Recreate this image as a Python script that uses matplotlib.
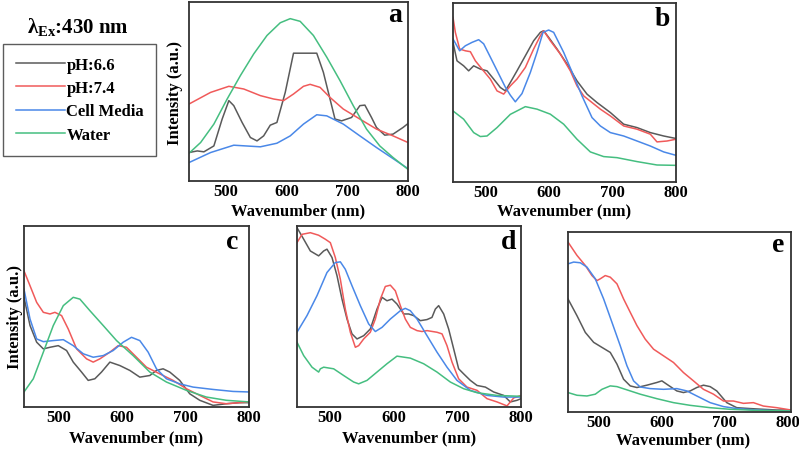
import matplotlib
matplotlib.use("Agg")
import matplotlib.pyplot as plt

plt.rcParams['font.family'] = ['Liberation Serif', 'DejaVu Serif']
plt.rcParams['font.weight'] = 'bold'
plt.rcParams['mathtext.fontset'] = 'custom'
plt.rcParams['mathtext.rm'] = 'Liberation Serif:bold'
plt.rcParams['mathtext.it'] = 'Liberation Serif:bold'
plt.rcParams['mathtext.bf'] = 'Liberation Serif:bold'

labels = ['pH:6.6', 'pH:7.4', 'Cell Media', 'Water']
colors = ['#5a5a5a', '#f05a5a', '#4a88e8', '#45be80']

# panel a
a_gray_x = [440, 453.6, 464.5, 480.9, 494.5, 505.5, 513.6, 527.3, 540.9, 551.8, 562.7, 573.6, 584.5, 598.2,
            611.8, 650, 660.9, 671.8, 680, 690.9, 707.3, 720.9, 729.1, 740, 748.2, 761.8, 775.5, 791.8, 800]
a_gray_y = [0.159, 0.168, 0.163, 0.196, 0.346, 0.449, 0.421, 0.327, 0.243, 0.224, 0.252, 0.312, 0.327, 0.495,
            0.714, 0.714, 0.607, 0.458, 0.346, 0.336, 0.355, 0.421, 0.424, 0.355, 0.299, 0.256, 0.262, 0.299, 0.321]
a_red_x = [440, 475.5, 505.5, 530, 557.3, 579.1, 595.5, 611.8, 628.2, 639.1, 655.5, 671.8, 693.6, 720.9, 748.2, 775.5, 800]
a_red_y = [0.430, 0.495, 0.529, 0.514, 0.477, 0.458, 0.449, 0.486, 0.529, 0.540, 0.523, 0.467, 0.402, 0.346, 0.290, 0.252, 0.215]
a_blue_x = [440, 475.5, 513.6, 557.3, 584.5, 606.4, 628.2, 650, 666.4, 693.6, 720.9, 748.2, 775.5, 800]
a_blue_y = [0.103, 0.159, 0.200, 0.191, 0.211, 0.252, 0.318, 0.370, 0.364, 0.318, 0.252, 0.187, 0.125, 0.069]
a_green_x = [440, 459.1, 480.9, 502.7, 524.5, 546.4, 568.2, 590, 606.4, 622.7, 644.5, 666.4, 688.2, 710, 731.8, 753.6, 775.5, 800]
a_green_y = [0.155, 0.215, 0.318, 0.458, 0.589, 0.710, 0.813, 0.884, 0.907, 0.892, 0.813, 0.692, 0.561, 0.421, 0.290, 0.196, 0.131, 0.065]

# panel b
b_gray_x = [448, 454.3, 464.8, 472.7, 480.6, 491.1, 501.7, 512.2, 522.7, 530.6, 538.5, 549, 562.2, 575.3,
            585.9, 591.1, 599, 612.2, 628, 643.7, 659.5, 675.3, 696.4, 717.4, 738.5, 759.5, 780.6, 800]
b_gray_y = [0.780, 0.677, 0.649, 0.621, 0.649, 0.631, 0.621, 0.575, 0.528, 0.509, 0.556, 0.621, 0.705, 0.789,
            0.836, 0.845, 0.808, 0.743, 0.659, 0.565, 0.491, 0.444, 0.388, 0.323, 0.304, 0.276, 0.257, 0.243]
b_red_x = [448, 451.7, 458.5, 467.5, 475.4, 483.3, 493.8, 506.9, 517.5, 528, 538.5, 549, 562.2, 575.3, 585.9,
           591.1, 601.6, 617.4, 633.2, 643.7, 654.3, 667.4, 680.6, 696.4, 717.4, 738.5, 759.5, 770, 785.8, 800]
b_red_y = [0.920, 0.836, 0.743, 0.733, 0.728, 0.677, 0.631, 0.575, 0.509, 0.491, 0.537, 0.575, 0.640, 0.743, 0.817,
           0.845, 0.789, 0.715, 0.621, 0.537, 0.481, 0.444, 0.407, 0.369, 0.313, 0.295, 0.267, 0.224, 0.229, 0.239]
b_blue_x = [448, 458.5, 467.5, 478, 488.5, 496.4, 506.9, 517.5, 530.6, 538.5, 546.4, 556.9, 570.1, 580.6, 590.1,
            599, 606.9, 622.7, 638.5, 651.6, 667.4, 680.6, 696.4, 717.4, 738.5, 759.5, 780.6, 800]
b_blue_y = [0.799, 0.733, 0.761, 0.780, 0.795, 0.772, 0.698, 0.623, 0.530, 0.485, 0.448, 0.494, 0.612, 0.724, 0.836,
            0.849, 0.836, 0.724, 0.593, 0.481, 0.360, 0.313, 0.276, 0.257, 0.229, 0.201, 0.168, 0.149]
b_green_x = [448, 464.8, 480.6, 491.1, 501.7, 517.5, 538.5, 562.2, 580.6, 601.6, 622.7, 643.7, 664.8, 685.8, 706.9, 738.5, 770, 800]
b_green_y = [0.397, 0.351, 0.276, 0.254, 0.257, 0.304, 0.378, 0.421, 0.407, 0.379, 0.323, 0.239, 0.168, 0.142, 0.136, 0.114, 0.095, 0.093]

# panel c
c_gray_x = [445, 454.5, 465, 475.5, 486, 499.1, 512.2, 522.7, 535.8, 546.3, 556.8, 567.3, 580.5, 596.2, 612,
            627.7, 643.5, 654, 664.5, 675, 690.7, 706.5, 722.3, 743.3, 764.3, 785.3, 800]
c_gray_y = [0.606, 0.450, 0.358, 0.321, 0.330, 0.339, 0.312, 0.248, 0.193, 0.147, 0.156, 0.193, 0.248, 0.229, 0.202,
            0.165, 0.174, 0.202, 0.211, 0.193, 0.147, 0.073, 0.037, 0.009, 0.018, 0.024, 0.024]
c_red_x = [445, 454.5, 465, 475.5, 486, 493.8, 504.3, 514.8, 528, 543.7, 554.2, 564.7, 580.5, 593.6, 606.7,
           622.5, 638.2, 659.2, 680.2, 701.2, 722.3, 743.3, 764.3, 800]
c_red_y = [0.752, 0.670, 0.578, 0.523, 0.514, 0.523, 0.505, 0.431, 0.321, 0.266, 0.248, 0.266, 0.303, 0.339, 0.330,
           0.275, 0.220, 0.183, 0.147, 0.101, 0.064, 0.028, 0.018, 0.028]
c_blue_x = [445, 454.5, 465, 475.5, 491.2, 507, 522.7, 538.5, 554.2, 570, 585.7, 601.5, 614.6, 627.7, 640.9,
            654, 669.7, 690.7, 711.8, 743.3, 774.8, 800]
c_blue_y = [0.651, 0.486, 0.376, 0.361, 0.367, 0.372, 0.339, 0.294, 0.275, 0.284, 0.312, 0.358, 0.385, 0.367, 0.303,
            0.211, 0.156, 0.128, 0.110, 0.097, 0.086, 0.083]
c_green_x = [445, 459.7, 475.5, 491.2, 507, 522.7, 533.2, 549, 570, 591, 617.2, 643.5, 669.7, 701.2, 732.8, 764.3, 800]
c_green_y = [0.083, 0.156, 0.303, 0.450, 0.560, 0.606, 0.596, 0.532, 0.450, 0.367, 0.284, 0.193, 0.138, 0.092, 0.055, 0.037, 0.028]

# panel d
d_gray_x = [448, 458.5, 469, 482, 489.9, 495.1, 503, 510.9, 518.7, 526.6, 534.4, 542.3, 552.8, 563.2, 573.7,
            581.6, 589.4, 597.3, 605.1, 615.6, 623.5, 631.3, 641.8, 652.3, 660.1, 665.4, 670.6, 678.5, 686.3,
            694.2, 702, 709.9, 720.4, 730.9, 744, 757, 772.8, 783.2, 793.7, 800]
d_gray_y = [0.991, 0.927, 0.862, 0.835, 0.862, 0.872, 0.826, 0.725, 0.596, 0.486, 0.404, 0.376, 0.394, 0.431, 0.541,
            0.606, 0.587, 0.596, 0.569, 0.514, 0.514, 0.505, 0.477, 0.483, 0.495, 0.541, 0.560, 0.514, 0.431,
            0.321, 0.211, 0.183, 0.147, 0.119, 0.110, 0.083, 0.064, 0.028, 0.037, 0.046]
d_red_x = [448, 455.9, 469, 482, 492.5, 500.4, 508.2, 516.1, 523.9, 531.8, 539.7, 544.9, 552.8, 563.2, 571.1,
           579, 586.8, 594.7, 602.5, 610.4, 618.2, 626.1, 636.6, 644.4, 652.3, 668, 675.9, 683.7, 691.6, 702,
           715.1, 730.9, 746.6, 762.3, 778, 788.5, 800]
d_red_y = [0.908, 0.954, 0.963, 0.949, 0.927, 0.908, 0.826, 0.706, 0.541, 0.413, 0.330, 0.339, 0.376, 0.413, 0.486,
           0.596, 0.666, 0.673, 0.642, 0.560, 0.486, 0.440, 0.422, 0.417, 0.422, 0.413, 0.404, 0.339, 0.248, 0.156,
           0.110, 0.092, 0.046, 0.028, 0.006, 0.050, 0.064]
d_blue_x = [448, 463.7, 479.4, 495.1, 508.2, 516.1, 523.9, 534.4, 547.5, 560.6, 571.1, 581.6, 594.7, 610.4, 618.2,
            626.1, 636.6, 652.3, 668, 683.7, 699.4, 720.4, 746.6, 772.8, 800]
d_blue_y = [0.413, 0.505, 0.615, 0.743, 0.798, 0.802, 0.761, 0.670, 0.560, 0.459, 0.417, 0.440, 0.486, 0.532, 0.545,
            0.532, 0.486, 0.394, 0.303, 0.220, 0.147, 0.092, 0.064, 0.055, 0.055]
d_green_x = [448, 458.5, 471.6, 482, 484.7, 489.9, 505.6, 521.3, 537, 544.9, 558, 573.7, 589.4, 605.1, 626.1,
             647, 668, 688.9, 709.9, 730.9, 762.3, 800]
d_green_y = [0.358, 0.284, 0.220, 0.193, 0.211, 0.220, 0.211, 0.174, 0.138, 0.128, 0.147, 0.193, 0.239, 0.281, 0.270,
             0.239, 0.193, 0.138, 0.101, 0.079, 0.064, 0.059]

# panel e
e_gray_x = [452, 466.2, 479.4, 492.6, 505.7, 518.9, 529.5, 540, 550.5, 561.1, 576.9, 592.7, 600.6, 608.5, 624.3,
            634.8, 645.4, 655.9, 666.4, 677, 687.5, 703.3, 719.1, 740.2, 761.3, 782.4, 805]
e_gray_y = [0.628, 0.535, 0.442, 0.387, 0.359, 0.331, 0.266, 0.182, 0.145, 0.136, 0.149, 0.164, 0.173, 0.154, 0.117,
            0.108, 0.117, 0.136, 0.149, 0.141, 0.117, 0.052, 0.024, 0.019, 0.015, 0.011, 0.011]
e_red_x = [452, 466.2, 479.4, 489.9, 497.8, 503.1, 511, 518.9, 529.5, 540, 550.5, 561.1, 574.2, 587.4, 603.2,
           619, 634.8, 650.6, 666.4, 682.3, 698.1, 713.9, 729.7, 745.5, 761.3, 782.4, 798.2, 805]
e_red_y = [0.944, 0.870, 0.814, 0.758, 0.730, 0.740, 0.758, 0.749, 0.712, 0.628, 0.554, 0.480, 0.405, 0.349, 0.312,
           0.275, 0.219, 0.173, 0.126, 0.099, 0.061, 0.061, 0.048, 0.052, 0.033, 0.024, 0.015, 0.011]
e_blue_x = [452, 461, 471.5, 482, 495.2, 508.4, 521.6, 534.7, 545.3, 555.8, 566.3, 582.1, 603.2, 624.3, 640.1,
            655.9, 677, 698.1, 719.1, 750.7, 782.4, 805]
e_blue_y = [0.823, 0.833, 0.829, 0.805, 0.740, 0.628, 0.498, 0.368, 0.257, 0.173, 0.139, 0.130, 0.126, 0.130, 0.117,
            0.089, 0.052, 0.030, 0.019, 0.011, 0.007, 0.006]
e_green_x = [452, 466.2, 482, 495.2, 505.7, 518.9, 529.5, 545.3, 566.3, 592.7, 619, 645.4, 677, 708.6, 750.7, 805]
e_green_y = [0.108, 0.093, 0.089, 0.099, 0.126, 0.145, 0.141, 0.123, 0.099, 0.074, 0.052, 0.037, 0.024, 0.015, 0.009, 0.006]

panels = [
    ('a', (440, 800), [(a_gray_x, a_gray_y), (a_red_x, a_red_y), (a_blue_x, a_blue_y), (a_green_x, a_green_y)]),
    ('b', (448, 800), [(b_gray_x, b_gray_y), (b_red_x, b_red_y), (b_blue_x, b_blue_y), (b_green_x, b_green_y)]),
    ('c', (445, 800), [(c_gray_x, c_gray_y), (c_red_x, c_red_y), (c_blue_x, c_blue_y), (c_green_x, c_green_y)]),
    ('d', (448, 800), [(d_gray_x, d_gray_y), (d_red_x, d_red_y), (d_blue_x, d_blue_y), (d_green_x, d_green_y)]),
    ('e', (452, 805), [(e_gray_x, e_gray_y), (e_red_x, e_red_y), (e_blue_x, e_blue_y), (e_green_x, e_green_y)]),
]
xticks = [500, 600, 700, 800]

W, H = 799, 452
# pixel boxes: left, top, right, bottom
boxes = {'a': (189, 3, 408, 182), 'b': (453, 4, 676, 183), 'c': (24, 227, 249, 408),
         'd': (297, 227, 521, 408), 'e': (568, 233, 791, 413)}
letter_pos = {'a': (0.94, 0.93), 'b': (0.937, 0.915), 'c': (0.924, 0.915), 'd': (0.946, 0.912), 'e': (0.942, 0.93)}
xlab_pos = {'a': (0.5, -0.117), 'b': (0.5, -0.112), 'c': (0.5, -0.122), 'd': (0.5, -0.122), 'e': (0.516, -0.11)}
ylab_x = {'a': -0.027, 'c': -0.004}

fig = plt.figure(figsize=(W / 100, H / 100), dpi=100)
handles = []
for name, xlim, series in panels:
    l, t, r, b = boxes[name]
    ax = fig.add_axes([l / W, 1 - b / H, (r - l) / W, (b - t) / H])
    for (x, y), c in zip(series, colors):
        ln, = ax.plot(x, y, color=c, lw=1.1)
        if name == 'a':
            handles.append(ln)
    ax.set_xlim(*xlim)
    ax.set_ylim(0, 1)
    ax.set_xticks(xticks)
    ax.set_yticks([])
    ax.tick_params(axis='x', length=0, pad=1.5, labelsize=12)
    for s in ax.spines.values():
        s.set_color('#333333')
        s.set_linewidth(1.3)
    ax.set_xlabel('Wavenumber (nm)', fontsize=12, fontweight='bold')
    ax.xaxis.set_label_coords(*xlab_pos[name])
    if name in ylab_x:
        ax.set_ylabel('Intensity (a.u.)', fontsize=12, fontweight='bold')
        ax.yaxis.set_label_coords(ylab_x[name], 0.5)
    lx, ly = letter_pos[name]
    ax.text(lx, ly, name, transform=ax.transAxes, ha='center', va='center',
            fontsize=20, fontweight='bold')

fig.text(78 / W, 1 - 27 / H, r'$\lambda_{Ex}$:430 nm', ha='center', va='center',
         fontsize=15, fontweight='bold')
leg = fig.legend(handles, labels, loc='upper left', bbox_to_anchor=(3 / W, 1 - 45 / H),
                 prop={'family': 'Liberation Serif', 'weight': 'bold', 'size': 12},
                 handlelength=2.95, handletextpad=0.1, labelspacing=0.45,
                 borderpad=0.75, borderaxespad=0, fancybox=False, frameon=True)
leg.get_frame().set_edgecolor('#333333')
leg.get_frame().set_linewidth(1.0)

fig.savefig('out.png', dpi=100)
